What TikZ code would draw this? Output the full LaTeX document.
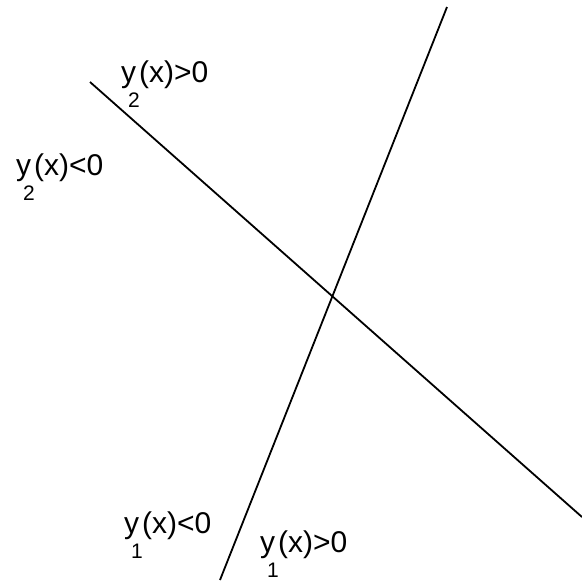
\documentclass[tikz,border=0pt]{standalone}
\usepackage{fontspec}
\setmainfont{Liberation Sans}
\newcommand{\lbl}[3]{#1\makebox[0pt][l]{\hspace{-8pt}\raisebox{-25pt}{\fontsize{21}{21}\selectfont #2}}\hspace{3pt}(x)#3}
\begin{document}
\begin{tikzpicture}[x=1pt,y=-1pt,
  lineseg/.style={line width=1.8pt,black},
  lab/.style={anchor=base west,inner sep=0pt,font=\fontsize{30}{30}\selectfont}]
\useasboundingbox[fill=white] (0,0) rectangle (582,582);
\coordinate (p1) at (447,7);
\coordinate (p2) at (220,580);
\coordinate (q1) at (90,82);
\coordinate (q2) at (582,517);
\draw[lineseg] (p1) -- (p2);
\draw[lineseg] (q1) -- (q2);
\node[lab] (la) at (121,82) {\lbl{y}{2}{>0}};
\node[lab] (lb) at (16,175) {\lbl{y}{2}{<0}};
\node[lab] (lc) at (124,533) {\lbl{y}{1}{<0}};
\node[lab] (ld) at (260,552) {\lbl{y}{1}{>0}};
\end{tikzpicture}
\end{document}
